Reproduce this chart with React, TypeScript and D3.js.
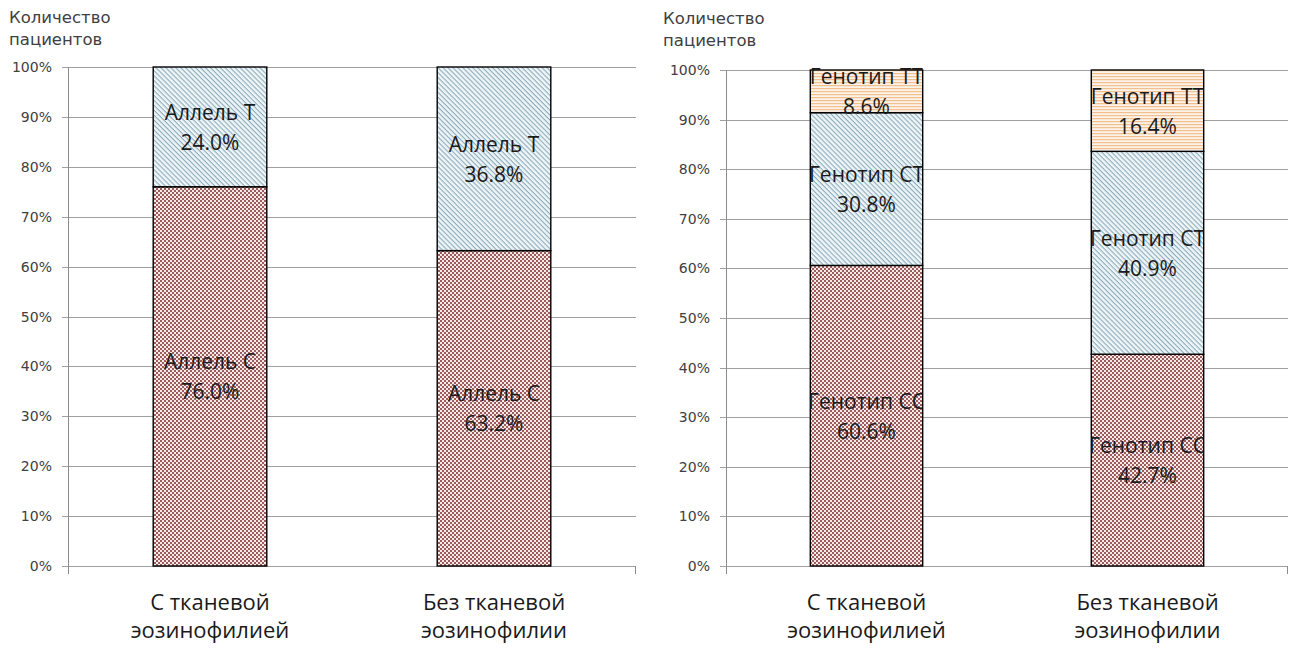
import React from "react";
import * as d3 from "d3";

const W = 1295;
const H = 648;

// Category labels (two lines each)
const categoryLines: string[][] = [
  ["С тканевой", "эозинофилией"],
  ["Без тканевой", "эозинофилии"],
];
const categories = ["c1", "c2"];

// Allele frequencies, %
const alleleNames = ["Аллель С", "Аллель Т"];
const alleleC = [76.0, 63.2];
const alleleT = [24.0, 36.8];

// Genotype frequencies, %
const genotypeNames = ["Генотип СС", "Генотип СТ", "Генотип ТТ"];
const genoCC = [60.6, 42.7];
const genoCT = [30.8, 40.9];
const genoTT = [8.6, 16.4];

const yTicks = [0, 10, 20, 30, 40, 50, 60, 70, 80, 90, 100];
const yTitle = ["Количество", "пациентов"];

const FONT = "'Open Sans', 'DejaVu Sans', sans-serif";
const AXIS_FONT = "'DejaVu Sans', sans-serif";

type Panel = {
  id: string;
  left: number;
  right: number;
  top: number;
  bottom: number;
  titleX: number;
  titleY: number;
  names: string[];
  series: number[][];
  fills: string[];
};

const panels: Panel[] = [
  {
    id: "a",
    left: 68,
    right: 636,
    top: 67,
    bottom: 566,
    titleX: 9,
    titleY: 23,
    names: alleleNames,
    series: [alleleC, alleleT],
    fills: ["url(#checker)", "url(#diag)"],
  },
  {
    id: "b",
    left: 726,
    right: 1288,
    top: 70,
    bottom: 566,
    titleX: 663,
    titleY: 24,
    names: genotypeNames,
    series: [genoCC, genoCT, genoTT],
    fills: ["url(#checker)", "url(#diag)", "url(#hstripe)"],
  },
];

function PanelChart({ p }: { p: Panel }) {
  const x = d3
    .scaleBand<string>()
    .domain(categories)
    .range([p.left, p.right])
    .paddingInner(0.6)
    .paddingOuter(0.3);
  const y = d3.scaleLinear().domain([0, 100]).range([p.bottom, p.top]);

  const rows = categories.map((c, i) => {
    const r: Record<string, number | string> = { cat: c };
    p.names.forEach((n, k) => (r[n] = p.series[k][i]));
    return r;
  });
  const stacked = d3.stack<Record<string, number | string>>().keys(p.names)(rows as any);

  const bw = x.bandwidth();

  return (
    <g>
      <defs>
        {categories.map((c) => (
          <clipPath key={c} id={`clip-${p.id}-${c}`}>
            <rect x={x(c)!} y={p.top - 5} width={bw} height={p.bottom - p.top + 10} />
          </clipPath>
        ))}
      </defs>
      {/* axis title */}
      <text x={p.titleX} y={p.titleY} fontSize={16.5} fill="#404040" fontFamily={AXIS_FONT}>
        {yTitle[0]}
      </text>
      <text x={p.titleX} y={p.titleY + 22} fontSize={16.5} fill="#404040" fontFamily={AXIS_FONT}>
        {yTitle[1]}
      </text>
      {/* gridlines and tick labels */}
      {yTicks.map((t) => (
        <g key={t}>
          <line
            x1={p.left - 6}
            x2={p.right}
            y1={Math.round(y(t)) + 0.5}
            y2={Math.round(y(t)) + 0.5}
            stroke="#a0a0a0"
            strokeWidth={1}
          />
          <text
            x={p.left - 16}
            y={y(t)}
            dy="0.36em"
            textAnchor="end"
            fontSize={14}
            fill="#404040"
            fontFamily={AXIS_FONT}
          >
            {t}%
          </text>
        </g>
      ))}
      {/* value axis */}
      <line
        x1={p.left + 0.5}
        x2={p.left + 0.5}
        y1={p.top}
        y2={p.bottom + 8}
        stroke="#8c8c8c"
      />
      <line
        x1={p.right - 0.5}
        x2={p.right - 0.5}
        y1={p.bottom}
        y2={p.bottom + 8}
        stroke="#8c8c8c"
      />
      {/* stacked bars */}
      {stacked.map((s, k) =>
        s.map((d, i) => (
          <rect
            key={`${k}-${i}`}
            x={x(categories[i])!}
            y={y(d[1])}
            width={bw}
            height={y(d[0]) - y(d[1])}
            fill={p.fills[k]}
            stroke="#000"
            strokeWidth={1.4}
          />
        ))
      )}
      {/* data labels */}
      {stacked.map((s, k) =>
        s.map((d, i) => {
          const cx = x(categories[i])! + bw / 2;
          const cy = (y(d[0]) + y(d[1])) / 2;
          return (
            <g key={`l-${k}-${i}`} clipPath={`url(#clip-${p.id}-${categories[i]})`}>
              <text
                x={cx}
                y={cy - 7}
                textAnchor="middle"
                fontSize={21}
                fill="#1a1a1a"
                fontFamily={FONT}
              >
                {p.names[k]}
              </text>
              <text
                x={cx}
                y={cy + 23}
                textAnchor="middle"
                fontSize={21}
                fill="#1a1a1a"
                fontFamily={FONT}
              >
                {(d[1] - d[0]).toFixed(1)}%
              </text>
            </g>
          );
        })
      )}
      {/* category labels */}
      {categories.map((c, i) => (
        <g key={`c-${c}`}>
          {categoryLines[i].map((ln, j) => (
            <text
              key={j}
              x={x(c)! + bw / 2}
              y={p.bottom + 44 + j * 28}
              textAnchor="middle"
              fontSize={22}
              fill="#1a1a1a"
              fontFamily={FONT}
            >
              {ln}
            </text>
          ))}
        </g>
      ))}
    </g>
  );
}

export default function App() {
  return (
    <svg
      width={W}
      height={H}
      style={{ position: "absolute", left: 0, top: 0, background: "#fff" }}
    >
      <defs>
        <pattern id="checker" patternUnits="userSpaceOnUse" width={4} height={4}>
          <rect width={4} height={4} fill="#f5e9e9" />
          <rect x={0} y={0} width={2} height={2} fill="#9c5c5c" />
          <rect x={2} y={2} width={2} height={2} fill="#9c5c5c" />
        </pattern>
        <pattern
          id="diag"
          patternUnits="userSpaceOnUse"
          width={4}
          height={3.5}
          patternTransform="rotate(45)"
        >
          <rect width={4} height={3.5} fill="#f0f5f7" />
          <rect x={0} y={0} width={4} height={1.1} fill="#8aacbc" />
        </pattern>
        <pattern id="hstripe" patternUnits="userSpaceOnUse" width={4} height={3}>
          <rect width={4} height={3} fill="#fdf3ea" />
          <rect x={0} y={1} width={4} height={1.2} fill="#f2bf8e" />
        </pattern>
      </defs>
      <rect width={W} height={H} fill="#fff" />
      {panels.map((p) => (
        <PanelChart key={p.id} p={p} />
      ))}
    </svg>
  );
}
